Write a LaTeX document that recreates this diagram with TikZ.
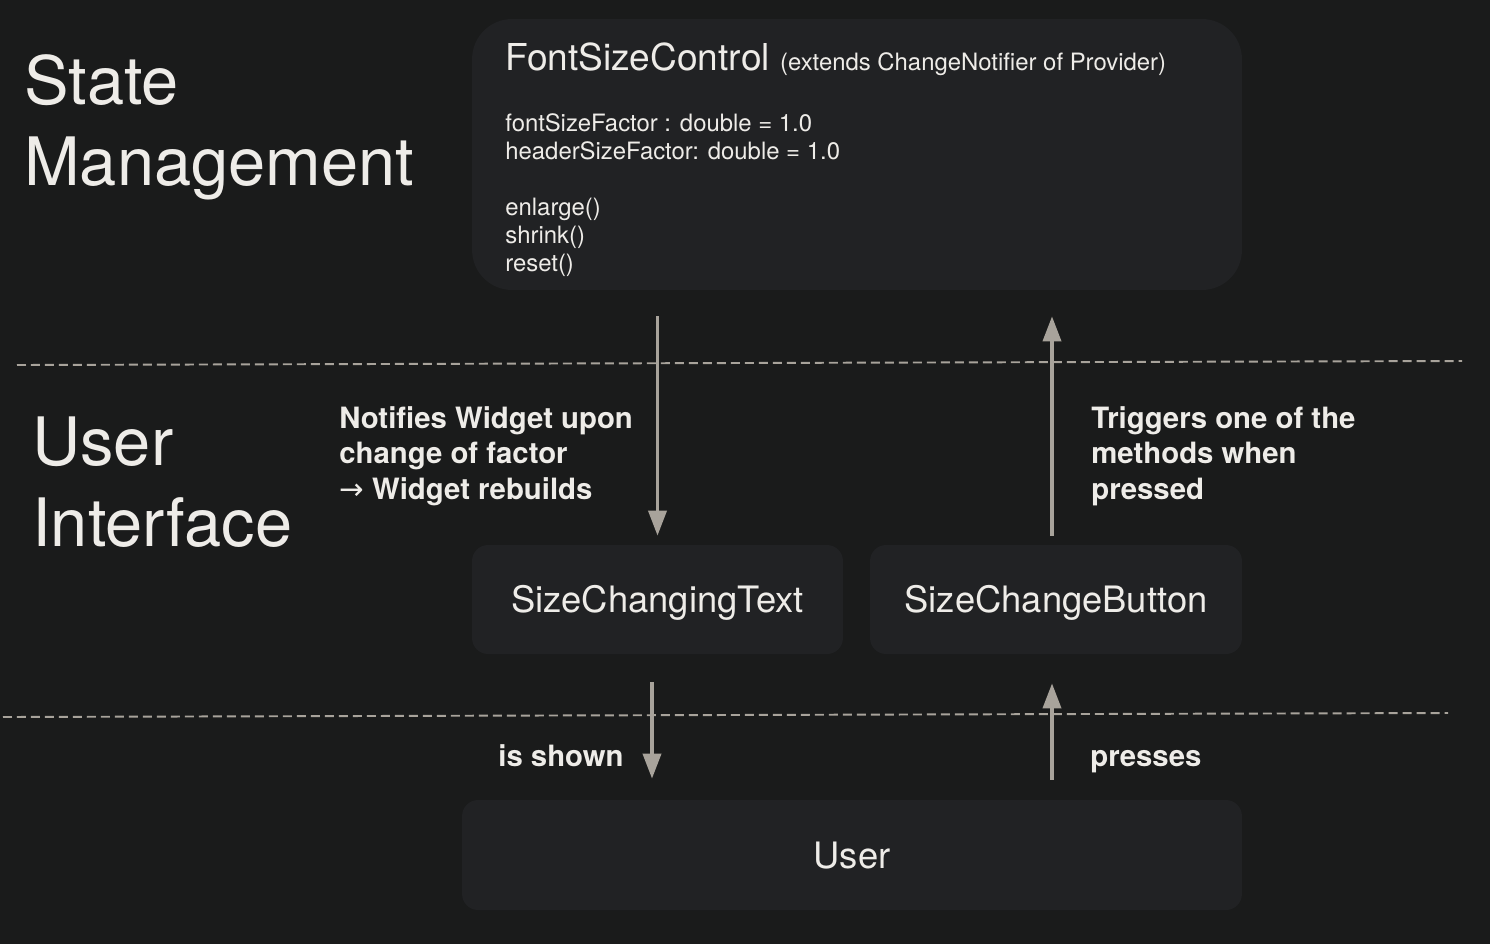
\documentclass[tikz,border=0pt]{standalone}
\usepackage{fontspec}
\setmainfont{TeX Gyre Heros}
\newfontfamily\arrowfont{DejaVu Sans}
\usetikzlibrary{arrows.meta}
\definecolor{bgdark}{HTML}{1A1B1B}
\definecolor{boxdark}{HTML}{212224}
\definecolor{textlight}{HTML}{EEECE8}
\definecolor{arrowgray}{HTML}{A8A39B}

\begin{document}
\begin{tikzpicture}[x=0.02cm, y=-0.02cm,
            every node/.style={text=textlight, inner sep=0mm},
            box/.style={fill=boxdark,
            rounded corners=0.32cm,
            text height=15pt,
            text depth=0pt,
            font=\fontsize{20.7pt}{25pt}\selectfont},
            heading/.style={font=\fontsize{38pt}{45.9pt}\selectfont, align=left, anchor=base west},
            note/.style={font=\fontsize{16.7pt}{20.2pt}\selectfont\bfseries, align=left, anchor=base west},
            member/.style={font=\fontsize{13.6pt}{16pt}\selectfont, anchor=base west},
            flow/.style={draw=arrowgray, line width=2.1pt, ->},
            divider/.style={draw=arrowgray, line width=1.1pt, dash pattern=on 0.18cm off 0.1cm},
            >={Triangle[length=0.5cm, width=0.36cm]}]
            \fill[bgdark] (0,0) rectangle (1490,944);
            \draw[divider] (17,365) -- (1462,361);
            \draw[divider] (3,717) -- (1448,713);
            \node[heading] (state) at (24,185) {State\\Management};
            \node[heading] (ui) at (32,546) {User\\Interface};
            \node[box, rounded corners=0.8cm, minimum width=15.4cm, minimum height=5.42cm] at (857,154.5) (fsc) {};
            \node[anchor=base west, font=\fontsize{21.1pt}{25pt}\selectfont] at (505,70) (title) {FontSizeControl \fontsize{13.6pt}{16pt}\selectfont(extends ChangeNotifier of Provider)};
            \foreach \member/\y [count=\i] in {{fontSizeFactor : double = 1.0}/131, {headerSizeFactor: double = 1.0}/159, {enlarge()}/215, {shrink()}/243, {reset()}/271}
                \node[member] at (505,\y) (member\i) {\member};
            \node[box, minimum width=7.42cm, minimum height=2.18cm] at (657.5,599.5) (sct) {SizeChangingText};
            \node[box, minimum width=7.44cm, minimum height=2.18cm] at (1056,599.5) (scb) {SizeChangeButton};
            \node[box, minimum width=15.6cm, minimum height=2.2cm] at (852,855) (user) {User};
            \draw[flow, shorten <=0.52cm, shorten >=0.18cm] (fsc.south -| sct.north) -- (sct.north);
            \draw[flow, shorten <=0.18cm, shorten >=0.52cm] ([xshift=-0.08cm]scb.north) -- ([xshift=-0.08cm]scb.north |- fsc.south);
            \draw[flow, shorten <=0.56cm, shorten >=0.42cm] ([xshift=-0.11cm]sct.south) -- ([xshift=-0.11cm]sct.south |- user.north);
            \draw[flow, shorten <=0.4cm, shorten >=0.58cm] ([xshift=-0.08cm]scb.south |- user.north) -- ([xshift=-0.08cm]scb.south);
            \node[note] at (339,499) (notifies) {Notifies Widget upon\\change of factor\\{\arrowfont\mdseries →} Widget rebuilds};
            \node[note] at (1091,499) (triggers) {Triggers one of the\\methods when\\pressed};
            \node[note] at (498,766) (shown) {is shown};
            \node[note] at (1090,766) (presses) {presses};
        \end{tikzpicture}
\end{document}
